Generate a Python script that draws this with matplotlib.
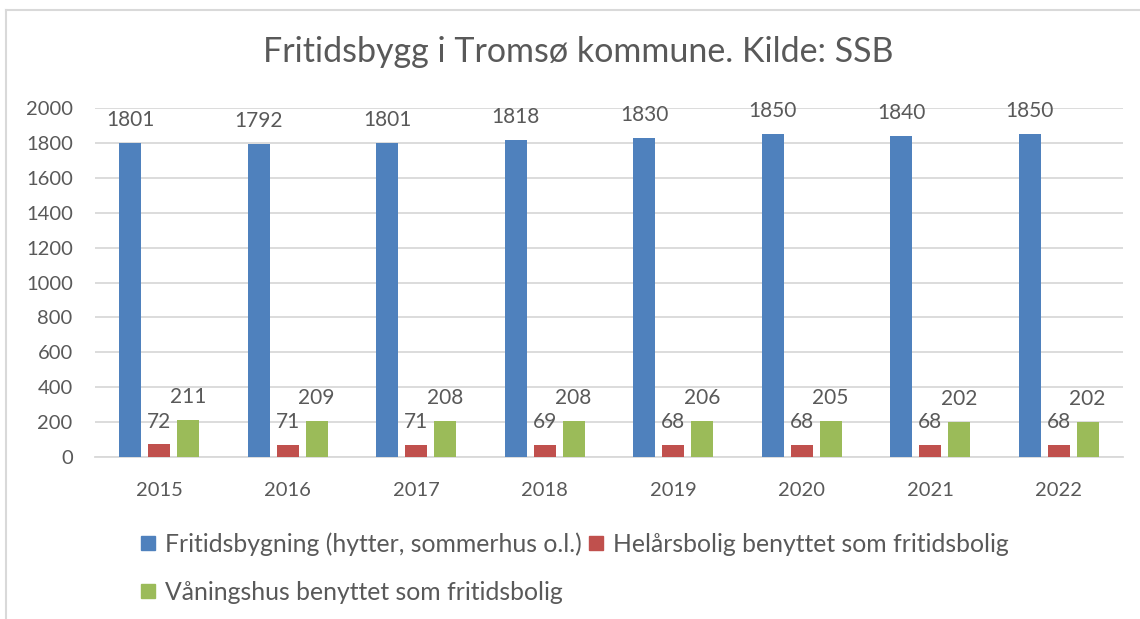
import numpy as np
import matplotlib.pyplot as plt
from matplotlib.lines import Line2D

years = ['2015', '2016', '2017', '2018', '2019', '2020', '2021', '2022']
fritidsbygning = [1801, 1792, 1801, 1818, 1830, 1850, 1840, 1850]
helarsbolig = [72, 71, 71, 69, 68, 68, 68, 68]
vaningshus = [211, 209, 208, 208, 206, 205, 202, 202]

series_names = ['Fritidsbygning (hytter, sommerhus o.l.)',
                'Helårsbolig benyttet som fritidsbolig',
                'Våningshus benyttet som fritidsbolig']
colors = ['#4F81BD', '#C0504D', '#9BBB59']
text_color = '#595959'

plt.rcParams['font.family'] = ['Lato', 'DejaVu Sans']

fig = plt.figure(figsize=(11.4, 6.19), dpi=100)
ax = fig.add_axes([0.0833, 0.2617, 0.9017, 0.5638])

x = np.arange(len(years))
width = 0.171
offsets = [-0.225, 0, 0.225]
for vals, off, col in zip([fritidsbygning, helarsbolig, vaningshus], offsets, colors):
    ax.bar(x + off, vals, width, color=col, zorder=3)
    for xi, v in zip(x + off, vals):
        ax.annotate(str(v), (xi, v), xytext=(0, 16.5), textcoords='offset points',
                    ha='center', va='center', fontsize=15, color=text_color)

ax.set_xlim(-0.5, len(years) - 0.5)
ax.set_ylim(0, 2000)
ax.set_yticks(range(0, 2001, 200))
ax.set_xticks(x)
ax.set_xticklabels(years)
ax.yaxis.grid(True, color='#d9d9d9', linewidth=1.3, zorder=0)
ax.set_axisbelow(True)
for s in ['top', 'right', 'left']:
    ax.spines[s].set_visible(False)
ax.spines['bottom'].set_color('#d9d9d9')
ax.spines['bottom'].set_linewidth(1.3)
ax.tick_params(axis='both', length=0, labelsize=14.5, labelcolor=text_color)
ax.tick_params(axis='x', pad=18)
ax.tick_params(axis='y', pad=16)

fig.text(578 / 1140, 1 - 52 / 619, 'Fritidsbygg i Tromsø kommune. Kilde: SSB',
         ha='center', va='center', fontsize=24.5, color=text_color)

# legend: two columns, third entry wraps to the second row
order = [0, 2, 1]
handles = [Line2D([], [], marker='s', linestyle='none', markersize=10.5,
                  markerfacecolor=colors[i], markeredgecolor=colors[i]) for i in order]
labels = [series_names[i] for i in order]
leg = fig.legend(handles, labels, ncol=2, frameon=False, loc='upper left',
                 bbox_to_anchor=(127 / 1140, 1 - 520 / 619), fontsize=17.8,
                 labelcolor=text_color, handlelength=0.7, handletextpad=0.35,
                 columnspacing=0.2, labelspacing=1.0, borderpad=0)

# chart frame (top and left edges)
fig.add_artist(Line2D([6 / 1140, 1], [1 - 10 / 619, 1 - 10 / 619], color='#d9d9d9', lw=1.5))
fig.add_artist(Line2D([6 / 1140, 6 / 1140], [0, 1 - 10 / 619], color='#d9d9d9', lw=1.5))

fig.savefig('out.png', dpi=100)
